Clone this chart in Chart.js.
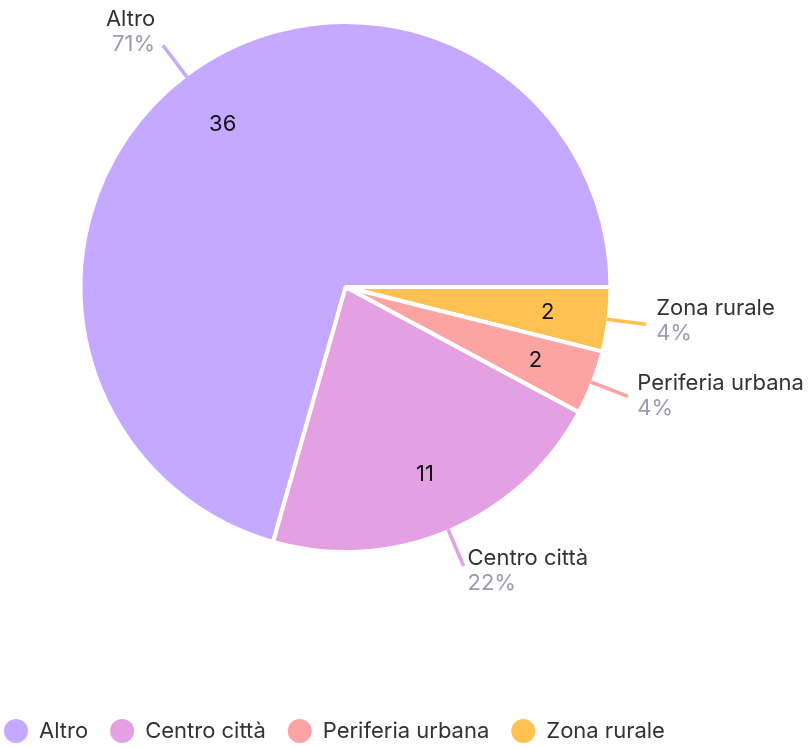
<!DOCTYPE html>
<html>
<head>
<meta charset="utf-8">
<script src="https://cdn.jsdelivr.net/npm/chart.js@4.4.1/dist/chart.umd.min.js"></script>
<style>
  html, body { margin: 0; padding: 0; background: #fff; }
  #wrap { width: 809px; height: 748px; }
</style>
</head>
<body>
<div id="wrap"><canvas id="pieChart"></canvas></div>
<script>
// données (ordre de la légende)
const categories = ['Altro', 'Centro città', 'Periferia urbana', 'Zona rurale'];
const counts = [36, 11, 2, 2];
const colors = ['#c5a8ff', '#e3a0e3', '#fca3a3', '#ffc152'];

const FONT = 'Inter, "Noto Sans", sans-serif';
const total = counts.reduce((a, b) => a + b, 0);

// le camembert tourne dans le sens horaire depuis 3h en commençant par la dernière catégorie
const drawLabels = categories.slice().reverse();
const drawCounts = counts.slice().reverse();
const drawColors = colors.slice().reverse();

// étiquettes : valeur dans la part + nom et pourcentage à l'extérieur
const sliceLabels = {
  id: 'sliceLabels',
  afterDatasetsDraw(chart) {
    const ctx = chart.ctx;
    const meta = chart.getDatasetMeta(0);
    const ds = chart.data.datasets[0];
    ctx.save();
    meta.data.forEach((arc, i) => {
      const p = arc.getProps(['x', 'y', 'startAngle', 'endAngle', 'outerRadius'], true);
      const mid = (p.startAngle + p.endAngle) / 2;
      const dx = Math.cos(mid), dy = Math.sin(mid);
      const r = p.outerRadius - 2;

      // valeur
      ctx.fillStyle = '#111';
      ctx.font = '22px ' + FONT;
      ctx.textAlign = 'center';
      ctx.textBaseline = 'middle';
      ctx.fillText(String(ds.data[i]), p.x + dx * r * 0.775, p.y + dy * r * 0.775);

      // trait
      const ex = p.x + dx * (r + 40), ey = p.y + dy * (r + 40);
      ctx.strokeStyle = ds.backgroundColor[i];
      ctx.lineWidth = 3.5;
      ctx.beginPath();
      ctx.moveTo(p.x + dx * r, p.y + dy * r);
      ctx.lineTo(ex, ey);
      ctx.stroke();

      // nom + pourcentage
      const tx = ex + dx * (dx > 0 ? 10 : 13);
      const cy = ey - 5 + dy * 11;
      ctx.textAlign = dx >= 0 ? 'left' : 'right';
      ctx.fillStyle = '#333';
      ctx.font = '22px ' + FONT;
      ctx.fillText(chart.data.labels[i], tx, cy - 12.5);
      ctx.fillStyle = '#9b9bb4';
      ctx.fillText(Math.round(ds.data[i] / total * 100) + '%', tx, cy + 12.5);
    });
    ctx.restore();
  }
};

const ctx = document.getElementById('pieChart');
new Chart(ctx, {
  type: 'pie',
  data: {
    labels: drawLabels,
    datasets: [{
      data: drawCounts,
      backgroundColor: drawColors,
      borderColor: '#ffffff',
      borderWidth: 4
    }]
  },
  options: {
    responsive: true,
    maintainAspectRatio: false,
    animation: false,
    rotation: 90,
    layout: {
      padding: { top: 20, left: -18, right: 118, bottom: -4 }
    },
    plugins: {
      tooltip: { enabled: false },
      legend: {
        position: 'bottom',
        align: 'start',
        reverse: true,
        title: { display: true, text: '', font: { size: 12 }, padding: { top: 129.6, bottom: 0 } },
        labels: {
          usePointStyle: true,
          pointStyle: 'circle',
          pointStyleWidth: 24,
          boxHeight: 17,
          padding: 22,
          color: '#333',
          font: { family: FONT, size: 22 },
          generateLabels(chart) {
            return Chart.overrides.pie.plugins.legend.labels.generateLabels(chart)
              .map(item => Object.assign(item, { lineWidth: 0 }));
          }
        }
      }
    }
  },
  plugins: [sliceLabels]
});
</script>
</body>
</html>
